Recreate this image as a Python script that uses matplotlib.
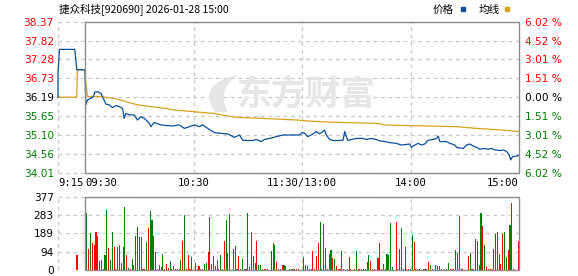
import matplotlib
matplotlib.use("Agg")
import matplotlib.pyplot as plt
import numpy as np
from matplotlib.patches import Rectangle, Polygon

# ---------------- data ----------------
title = "捷众科技[920690] 2026-01-28 15:00"
prev_close = 36.19
limit_pct = 6.02
vol_max = 377

# price line (minutes from 09:30; negative = call auction 09:15-09:30)
price_min = [-15, -15, -14.2, -5.7, -4.6, -0.1,
             0.4, 1.3, 3.2, 4.6, 5.3, 6.8, 8.7, 9.6, 11.5, 13.3, 15.2, 17.0, 18.8, 20.7,
             21.6, 22.5, 24.4, 27.1, 29.0, 30.8, 32.7, 35.5, 36.4, 38.2, 41.9, 45.6, 48.4,
             52.1, 54.9, 57.7, 60.4, 63.2, 65, 68.7, 71.5, 74.2, 78.9, 82.6, 85.4, 87.2,
             90, 92.8, 94.6, 97.4, 99.2, 102, 105.7, 109.4, 113.1, 118.6, 120.1, 121.4,
             123.2, 126, 127.8, 129.7, 132.5, 133.4, 135.3, 137.1, 140.8, 142.7, 143.6,
             144.5, 145.4, 147.3, 150, 153.7, 155.5, 158.3, 161, 163, 165.7, 168.5, 172,
             175, 179.6, 180.5, 181.4, 184.2, 186, 187.9, 189.8, 192.5, 194.4, 195.3,
             196.2, 199.9, 201.7, 204.5, 205.5, 209.2, 211, 212.9, 214.7, 216.6, 218.4,
             221.2, 223, 224.8, 226.7, 229.5, 231.3, 233.2, 234.6, 235.4, 236.5, 238.7, 240]
price_val = [36.19, 36.88, 37.57, 37.57, 36.98, 36.98,
             35.97, 36.11, 36.16, 36.21, 36.33, 36.35, 36.30, 36.21, 35.99, 35.97, 35.89, 35.95, 35.92, 35.87,
             35.58, 35.72, 35.68, 35.68, 35.53, 35.63, 35.58, 35.44, 35.34, 35.46, 35.39, 35.37, 35.36,
             35.39, 35.29, 35.34, 35.39, 35.34, 35.39, 35.26, 35.17, 35.15, 35.13, 35.03, 35.10, 34.95,
             34.94, 34.94, 34.97, 34.91, 34.97, 35.00, 35.05, 35.10, 35.10, 35.10, 35.17, 35.15,
             35.05, 35.13, 35.20, 35.13, 35.24, 35.10, 34.97, 34.94, 34.94, 34.95, 35.20,
             35.05, 34.94, 34.97, 35.00, 35.00, 34.97, 35.00, 34.97, 34.93, 34.91, 34.88, 34.86,
             34.81, 34.84, 34.74, 34.78, 34.86, 34.81, 34.84, 34.95, 34.97, 35.00, 35.07,
             34.91, 34.91, 34.86, 34.81, 34.74, 34.71, 34.81, 34.84, 34.78, 34.74, 34.69,
             34.71, 34.69, 34.71, 34.67, 34.65, 34.67, 34.62, 34.52, 34.38, 34.48, 34.49, 34.52]

# average price line
avg_min = [-15, -4.6, -4.3, -0.1, 0.4, 1.3, 8.7, 10.5, 15.2, 19.8, 22.5, 29, 36.4, 43.8, 49.3,
           60.4, 71.5, 76, 83.5, 102, 118, 121, 131.6, 142.7, 157.5, 164, 165, 179.6, 205.5,
           216.6, 222.1, 231.3, 240]
avg_val = [36.19, 36.19, 36.98, 36.98, 36.59, 36.21, 36.21, 36.19, 36.16, 36.11, 36.06, 35.97,
           35.92, 35.87, 35.82, 35.77, 35.72, 35.67, 35.61, 35.57, 35.53, 35.51, 35.48, 35.46,
           35.44, 35.42, 35.39, 35.37, 35.34, 35.29, 35.27, 35.24, 35.20]

# volume: call-auction bar, then one bar per minute 1..240 (R = up, G = down, - = none)
auction_min = -4.5
auction_vol = 77
vol = [295, 110, 188, 137, 127, 198, 173, 46, 51, 7,
       75, 310, 112, 51, 193, 117, 5, 117, 127, 36,
       117, 325, 75, 10, 5, 56, 25, 173, 219, 168,
       168, 5, 5, 142, 214, 302, 259, 173, 92, 5,
       25, 15, 81, 5, 31, 10, 46, 5, 20, 5,
       5, 5, 51, 147, 285, 5, 76, 5, 66, 0,
       36, 5, 20, 5, 5, 31, 36, 92, 275, 31,
       71, 20, 51, 5, 76, 5, 147, 259, 86, 290,
       0, 107, 122, 5, 71, 5, 56, 5, 5, 295,
       15, 193, 71, 36, 147, 25, 25, 5, 5, 5,
       5, 0, 97, 137, 127, 41, 5, 5, 25, 25,
       20, 0, 5, 5, 5, 5, 5, 5, 0, 0,
       66, 25, 20, 5, 5, 97, 5, 71, 137, 249,
       5, 239, 112, 5, 81, 102, 61, 56, 20, 5,
       5, 97, 5, 0, 5, 66, 5, 0, 5, 97,
       5, 5, 5, 5, 5, 41, 76, 46, 5, 5,
       0, 61, 137, 5, 31, 5, 81, 76, 244, 15,
       0, 249, 5, 107, 214, 5, 117, 5, 5, 5,
       178, 142, 5, 5, 5, 0, 5, 5, 5, 41,
       25, 5, 0, 25, 20, 20, 5, 0, 5, 5,
       36, 5, 5, 5, 102, 86, 280, 5, 5, 0,
       0, 71, 86, 5, 5, 158, 147, 25, 295, 224,
       127, 15, 5, 5, 5, 107, 183, 193, 81, 31,
       183, 198, 66, 102, 229, 347, 5, 0, 0, 147]
vol_side = ("GRGRRRRGRG" "GGRGGRRRGG" "GGRGRGRGGR" "GRRGRGGRRR"
            "GGGRRRGRRG" "RRGRGRRRR-" "GRRGRGGRGR" "GRGRGGRGGR"
            "-GGGRRGRGG" "RGGRRGGGRR" "R-GRGRGRRG" "R-GGRGRR--"
            "RGGRRRRRRG" "RGRRGGRGRR" "RGR-GGR-RG" "RRGGGRGRGR"
            "-RGRRRGGGG" "-RGGGRRRRG" "GRRRG-GRGR" "GR-RRGR-GR"
            "GRRRGRGRR-" "-RGRRRGGGR" "GRRRRGGGGR" "RGGRGRR--R")

tick_min = [-15, 0, 60, 120, 180, 240]
tick_lab = ["9:15", "09:30", "10:30", "11:30/13:00", "14:00", "15:00"]

# ---------------- layout ----------------
W, H = 578, 276
fig = plt.figure(figsize=(W / 100, H / 100), dpi=100)
fig.patch.set_facecolor("white")

def fx(px):
    return px / W

def fy(py):
    return 1 - py / H

X0, X1 = 58, 519
ax = fig.add_axes([fx(X0), fy(172.7), (X1 - X0) / W, (172.7 - 21.7) / H])
axv = fig.add_axes([fx(X0), fy(270), (X1 - X0) / W, (270 - 196.7) / H])

RED, GREEN, BLACK = "#ff0000", "#008000", "#000000"
GRID = "#c8c8c8"
FRAME = "#8c8c8c"
BLUE = "#0a4ea0"
GOLD = "#d9a21b"
WM = "#e6e6e6"
dash = (0, (3, 3))

lo = prev_close * (1 - limit_pct / 100)
hi = prev_close * (1 + limit_pct / 100)
levels = np.linspace(lo, hi, 9)
pcts = np.abs(np.linspace(-limit_pct, limit_pct, 9))

for a in (ax, axv):
    a.set_xlim(-15, 240)
    for s in a.spines.values():
        s.set_visible(False)
    a.set_facecolor("none")
    a.tick_params(length=0)

# ----- price panel -----
ax.set_ylim(lo, hi)
for lv in levels:
    ax.axhline(lv, color=GRID, ls=dash, lw=0.9, zorder=0, clip_on=False)
for v in [-15, 60, 120, 180]:
    ax.axvline(v, color=GRID, ls=dash, lw=0.9, zorder=0, clip_on=False)
ax.add_patch(Rectangle((0, lo), 240, hi - lo, fill=False, ec=FRAME, lw=1.0,
                       clip_on=False, zorder=5))

# watermark (flame-like logo + text), in pixel coordinates
def bezier(p0, p1, p2, n=40):
    s = np.linspace(0, 1, n)[:, None]
    return (1 - s) ** 2 * np.array(p0) + 2 * (1 - s) * s * np.array(p1) + s ** 2 * np.array(p2)

outer = bezier((215, 112), (196, 84), (238, 75))
inner = bezier((238, 75), (216, 90), (228, 112))
leaf = np.vstack([outer, inner])
leaf_fig = np.column_stack([leaf[:, 0] / W, 1 - leaf[:, 1] / H])
ax.add_patch(Polygon(leaf_fig, closed=True, transform=fig.transFigure, fc=WM, ec="none",
                     zorder=0.5, clip_on=False))
ax.text(fx(306), fy(94), "东方财富", transform=fig.transFigure, fontsize=25,
        fontweight="bold", color=WM, ha="center", va="center",
        family=["Noto Sans CJK SC", "DejaVu Sans"], zorder=0.5)

ax.plot(avg_min, avg_val, color=GOLD, lw=0.9, zorder=3, clip_on=False)
ax.plot(price_min, price_val, color=BLUE, lw=0.9, zorder=4, clip_on=False)

def side_color(lv):
    if abs(lv - prev_close) < 1e-6:
        return BLACK
    return RED if lv > prev_close else GREEN

ax.set_yticks(levels)
ax.set_yticklabels([f"{lv:.2f}" for lv in levels], fontsize=7.6)
for lab, lv in zip(ax.get_yticklabels(), levels):
    lab.set_color(side_color(lv))
ax.tick_params(axis="y", pad=3)

axr = ax.twinx()
axr.set_ylim(lo, hi)
for s in axr.spines.values():
    s.set_visible(False)
axr.set_yticks(levels)
axr.set_yticklabels([f"{p + 1e-9:.2f} %" for p in pcts], fontsize=7.6)
for lab, lv in zip(axr.get_yticklabels(), levels):
    lab.set_color(side_color(lv))
axr.tick_params(axis="y", length=0, pad=4)

ax.set_xticks(tick_min)
ax.set_xticklabels(tick_lab, fontsize=7.6, family="DejaVu Sans Mono")
for lab, ha in zip(ax.get_xticklabels(), ["left", "left", "center", "center", "center", "right"]):
    lab.set_ha(ha)
ax.tick_params(axis="x", pad=4)

# ----- volume panel -----
axv.set_ylim(0, vol_max)
vticks = np.linspace(0, vol_max, 5)
for lv in vticks[1:]:
    axv.axhline(lv, color=GRID, ls=dash, lw=0.9, zorder=0, clip_on=False)
for v in [-15, 60, 120, 180]:
    axv.axvline(v, color=GRID, ls=dash, lw=0.9, zorder=0, clip_on=False)
axv.add_patch(Rectangle((0, 0), 240, vol_max, fill=False, ec=FRAME, lw=1.0,
                        clip_on=False, zorder=5))

minutes = np.arange(1, len(vol) + 1)
colors = [RED if c == "R" else GREEN for c in vol_side]
axv.bar(minutes, vol, width=0.6, color=colors, linewidth=0, zorder=2, antialiased=False)
axv.bar([auction_min], [auction_vol], width=0.6, color=RED, linewidth=0, zorder=2,
        antialiased=False)

axv.set_yticks(vticks)
axv.set_yticklabels([str(int(v + 0.5)) for v in vticks], fontsize=7.6)
axv.tick_params(axis="y", pad=3, colors=BLACK)
axv.set_xticks([])

# ----- header -----
fig.text(fx(59), fy(9.5), title, fontsize=7.6, ha="left", va="center",
         family=["Noto Sans CJK SC", "DejaVu Sans"])
fig.text(fx(454), fy(9.5), "价格", fontsize=7.6, ha="right", va="center",
         family=["Noto Sans CJK SC", "DejaVu Sans"])
fig.patches.append(Rectangle((fx(461), fy(10.5)), 4 / W, 3 / H, color=BLUE,
                             transform=fig.transFigure, figure=fig))
fig.text(fx(500), fy(9.5), "均线", fontsize=7.6, ha="right", va="center",
         family=["Noto Sans CJK SC", "DejaVu Sans"])
fig.patches.append(Rectangle((fx(505), fy(10.5)), 4 / W, 3 / H, color=GOLD,
                             transform=fig.transFigure, figure=fig))

fig.savefig("out.png", dpi=100)
